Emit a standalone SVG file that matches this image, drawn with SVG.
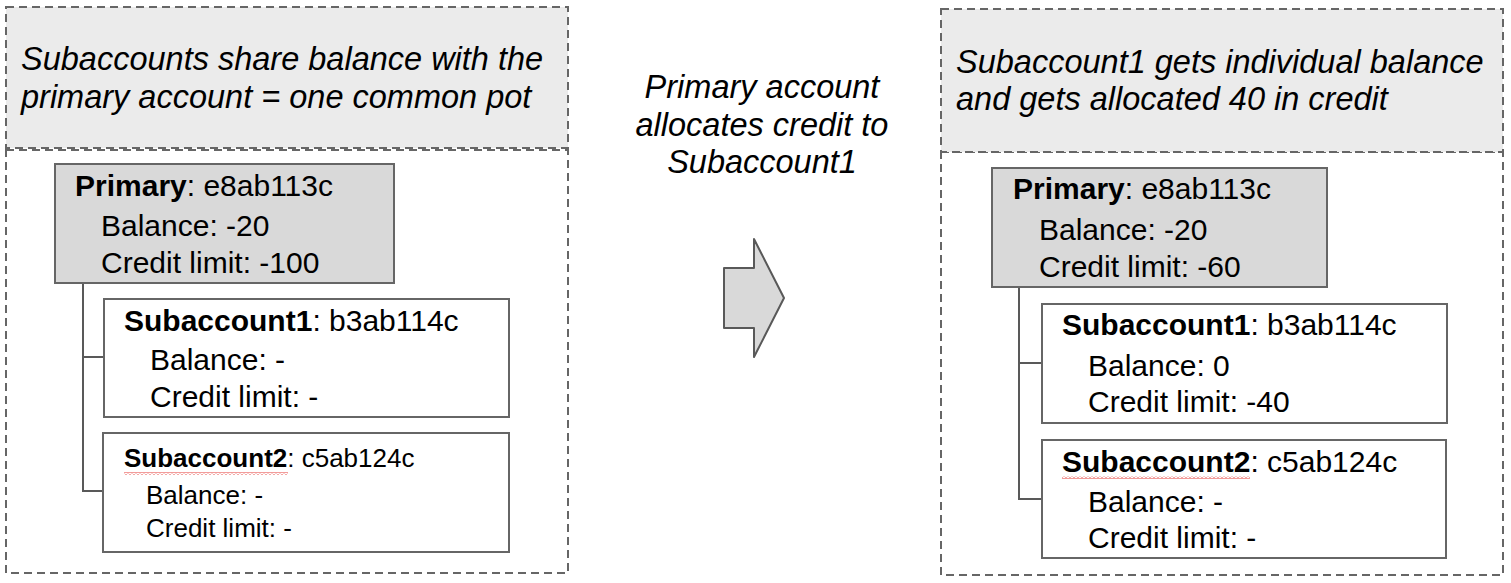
<svg xmlns="http://www.w3.org/2000/svg" width="1511" height="583" viewBox="0 0 1511 583">
<defs>
<pattern id="squiggle" patternUnits="userSpaceOnUse" x="0" y="0" width="4" height="3">
<path d="M0 2.5 L2 0.5 L4 2.5" fill="none" stroke="#e53935" stroke-width="1"/>
</pattern>
</defs>
<style>
.panel{fill:#ffffff;stroke:#666666;stroke-width:2;stroke-dasharray:8 5}
.head{fill:#ebebeb;stroke:#666666;stroke-width:2;stroke-dasharray:8 5}
.prim{fill:#d9d9d9;stroke:#666666;stroke-width:2}
.sub{fill:#ffffff;stroke:#666666;stroke-width:2}
.conn{fill:none;stroke:#595959;stroke-width:2}
.t{font-family:"Liberation Sans",Arial,sans-serif;font-size:30px;fill:#000}
.s{font-size:26px}
.it{font-family:"Liberation Sans",Arial,sans-serif;font-size:32.5px;font-style:italic;fill:#000}
.b{font-weight:bold}
</style>
<g id="left-panel">
<rect class="panel" x="6" y="150" width="562" height="423"/>
<rect class="head" x="6" y="7" width="562" height="141"/>
<text class="it" x="21" y="70">Subaccounts share balance with the</text>
<text class="it" x="21" y="108">primary account = one common pot</text>
</g>
<g id="right-panel">
<rect class="panel" x="941" y="152" width="562" height="423"/>
<rect class="head" x="941" y="9" width="562" height="143"/>
<text class="it" x="956" y="73">Subaccount1 gets individual balance</text>
<text class="it" x="956" y="110">and gets allocated 40 in credit</text>
</g>
<g id="connectors">
<path class="conn" d="M83 283 V491 H103 M83 357 H104"/>
<path class="conn" d="M1019 287 V499 H1042 M1019 363 H1042"/>
</g>
<g id="left-primary">
<rect class="prim" x="55" y="164" width="339" height="119"/>
<text class="t" x="75" y="196"><tspan class="b">Primary</tspan>: e8ab113c</text>
<text class="t" x="101" y="236">Balance: -20</text>
<text class="t" x="101" y="273">Credit limit: -100</text>
</g>
<g id="left-sub1">
<rect class="sub" x="104" y="299" width="405" height="118"/>
<text class="t" x="124" y="331"><tspan class="b">Subaccount1</tspan>: b3ab114c</text>
<text class="t" x="150" y="370">Balance: -</text>
<text class="t" x="150" y="407">Credit limit: -</text>
</g>
<g id="left-sub2">
<rect class="sub" x="103" y="433" width="406" height="119"/>
<text class="t s" x="124" y="467"><tspan class="b">Subaccount2</tspan>: c5ab124c</text>
<rect x="124" y="472" width="164" height="3" fill="url(#squiggle)"/>
<text class="t s" x="146" y="504">Balance: -</text>
<text class="t s" x="146" y="537">Credit limit: -</text>
</g>
<g id="transition">
<text class="it" x="762" y="98" text-anchor="middle">Primary account</text>
<text class="it" x="762" y="136" text-anchor="middle">allocates credit to</text>
<text class="it" x="762" y="173" text-anchor="middle">Subaccount1</text>
<path d="M724 268 H754 V239 L784 298 L754 357 V328 H724 Z" fill="#d9d9d9" stroke="#595959" stroke-width="2" stroke-linejoin="round"/>
</g>
<g id="right-primary">
<rect class="prim" x="992" y="168" width="335" height="119"/>
<text class="t" x="1013" y="199"><tspan class="b">Primary</tspan>: e8ab113c</text>
<text class="t" x="1039" y="240">Balance: -20</text>
<text class="t" x="1039" y="277">Credit limit: -60</text>
</g>
<g id="right-sub1">
<rect class="sub" x="1042" y="304" width="405" height="119"/>
<text class="t" x="1062" y="335"><tspan class="b">Subaccount1</tspan>: b3ab114c</text>
<text class="t" x="1088" y="376">Balance: 0</text>
<text class="t" x="1088" y="412">Credit limit: -40</text>
</g>
<g id="right-sub2">
<rect class="sub" x="1042" y="440" width="404" height="118"/>
<text class="t" x="1062" y="472"><tspan class="b">Subaccount2</tspan>: c5ab124c</text>
<rect x="1062" y="476" width="188" height="3" fill="url(#squiggle)"/>
<text class="t" x="1088" y="512">Balance: -</text>
<text class="t" x="1088" y="548">Credit limit: -</text>
</g>
</svg>
